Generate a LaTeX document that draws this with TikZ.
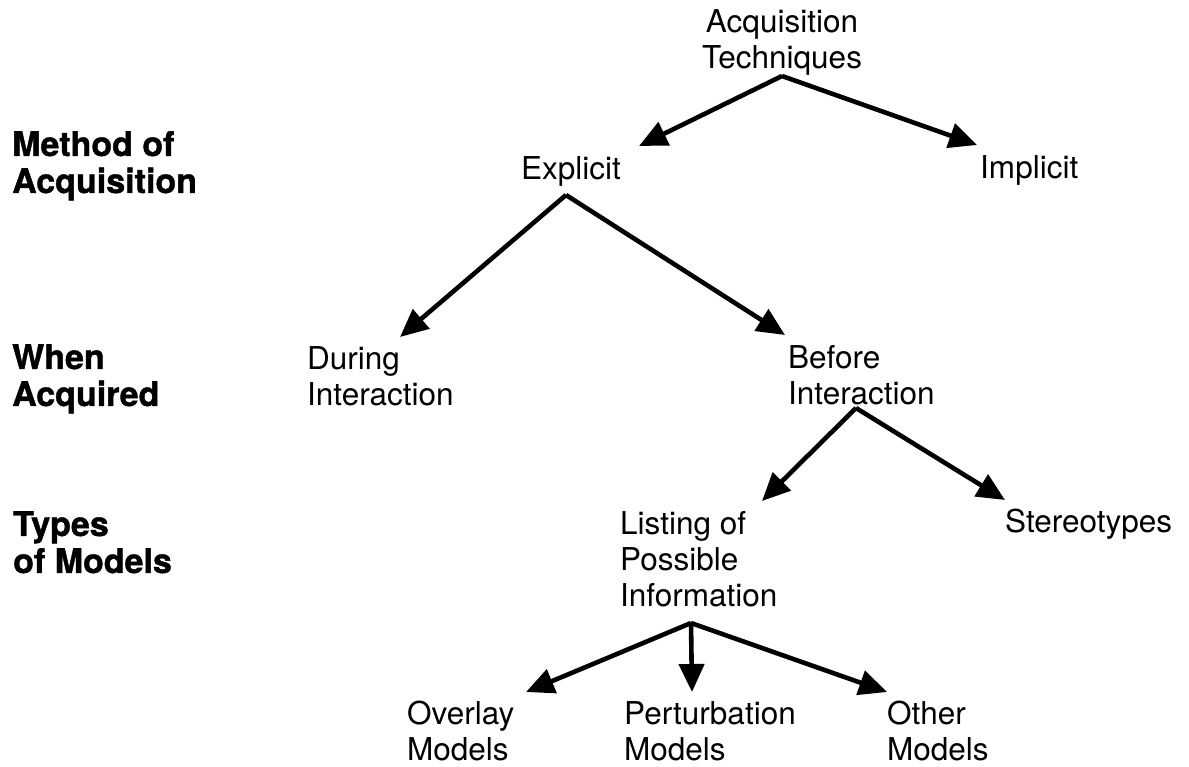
\documentclass[tikz,border=0pt]{standalone}
\usepackage{fontspec}
\setmainfont{TeX Gyre Heros}
\newfontfamily\captionface[FakeBold=1.2]{TeX Gyre Heros Bold}
\usetikzlibrary{arrows.meta}

\tikzset{
  item/.style={inner sep=0pt, align=left, anchor=north west,
    font=\fontsize{31.5}{36}\selectfont},
  level/.style={inner sep=0pt, align=left, anchor=north west,
    font=\captionface\fontsize{34}{37}\selectfont},
  branch/.style={line width=4.6pt, line join=miter,
    -{Triangle[length=28pt,width=25pt]}},
}

\begin{document}
\begin{tikzpicture}[x=1pt,y=-1pt]
\useasboundingbox (0,0) rectangle (1189,766);

% level captions on the left
\node[level] (lv1) at (12,131) {Method of\\Acquisition};
\node[level] (lv2) at (12,344) {When\\Acquired};
\node[level] (lv3) at (13,511) {Types\\of Models};

% tree labels
\node[item, anchor=north, align=center] (root) at (782,9) {Acquisition\\Techniques};
\node[item] (expl) at (521,156) {Explicit};
\node[item] (impl) at (980,155) {Implicit};
\node[item] (dur) at (307,346) {During\\Interaction};
\node[item] (bef) at (788,345) {Before\\Interaction};
\node[item] (list) at (620,511) {Listing of\\Possible\\Information};
\node[item] (ster) at (1005,509) {Stereotypes};
\node[item] (over) at (407,701) {Overlay\\Models};
\node[item] (pert) at (624,701) {Perturbation\\Models};
\node[item] (oth) at (887,701) {Other\\Models};

% branch points below each parent and arrow tips above each child
\coordinate (r0) at (782,76);
\coordinate (rE) at (639,146);
\coordinate (rI) at (977,145);
\coordinate (e0) at (566,195);
\coordinate (eD) at (400,337);
\coordinate (eB) at (785,335);
\coordinate (b0) at (856,408);
\coordinate (bL) at (762,501);
\coordinate (bS) at (1005,500);
\coordinate (l0) at (691,623);
\coordinate (lO) at (526,692);
\coordinate (lP) at (692,692);
\coordinate (lT) at (887,692);

\draw[branch] (r0) -- (rE);
\draw[branch] (r0) -- (rI);
\draw[branch] (e0) -- (eD);
\draw[branch] (e0) -- (eB);
\draw[branch] (b0) -- (bL);
\draw[branch] (b0) -- (bS);
\draw[branch] (l0) -- (lO);
\draw[branch] (l0) -- (lP);
\draw[branch] (l0) -- (lT);
\end{tikzpicture}
\end{document}
